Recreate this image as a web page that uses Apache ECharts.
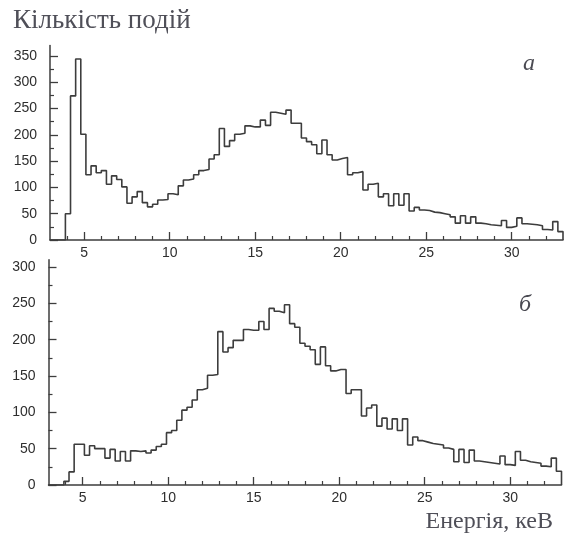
<!DOCTYPE html>
<html>
<head>
<meta charset="utf-8">
<script src="https://cdn.jsdelivr.net/npm/echarts@6/dist/echarts.min.js"></script>
<style>
  html, body { margin: 0; padding: 0; background: #ffffff; }
  #chart { width: 565px; height: 539px; }
</style>
</head>
<body>
<div id="chart"></div>
<script>
// Energy binning of both spectra (keV)
const binStart = 3;
const binWidth = 0.3;
const energyMin = 3;
const energyMax = 33;

// Counts per bin, spectrum (а)
const countsA = [
  0, 0, 0, 50, 274, 344, 201, 124, 141, 128,
  132, 106, 122, 115, 101, 70, 82, 92, 71, 63,
  68, 76, 77, 88, 86, 103, 114, 116, 124, 132,
  134, 154, 162, 212, 178, 189, 201, 203, 217, 215,
  215, 228, 218, 243, 241, 239, 247, 222, 222, 194,
  187, 181, 164, 190, 162, 152, 155, 157, 124, 128,
  130, 95, 106, 108, 82, 88, 65, 88, 66, 88,
  55, 62, 57, 56, 53, 52, 50, 48, 44, 32,
  46, 32, 44, 32, 31, 29, 28, 27, 37, 24,
  26, 42, 31, 30, 29, 27, 20, 19, 35, 16
];

// Counts per bin, spectrum (б)
const countsB = [
  0, 0, 0, 5, 18, 56, 56, 41, 54, 50,
  50, 37, 49, 33, 46, 33, 47, 46, 47, 44,
  48, 53, 56, 72, 75, 89, 103, 107, 117, 131,
  133, 151, 152, 211, 183, 189, 199, 199, 214, 213,
  213, 225, 214, 243, 239, 237, 248, 222, 217, 195,
  191, 186, 166, 190, 164, 157, 159, 159, 126, 131,
  131, 95, 106, 110, 81, 92, 77, 91, 75, 91,
  55, 66, 61, 59, 57, 56, 55, 51, 49, 32,
  49, 31, 48, 33, 32, 31, 30, 29, 40, 28,
  27, 46, 34, 32, 31, 30, 26, 25, 37, 19
];

// Axis ticks
const xMajorTicks = [5, 10, 15, 20, 25, 30];
const xMinorTicks = [4, 6, 7, 8, 9, 11, 12, 13, 14, 16, 17, 18, 19, 21, 22, 23, 24, 26, 27, 28, 29, 31, 32];
const yMajorTicksA = [0, 50, 100, 150, 200, 250, 300, 350];
const yMinorTicksA = [25, 75, 125, 175, 225, 275, 325];
const yMajorTicksB = [0, 50, 100, 150, 200, 250, 300];
const yMinorTicksB = [25, 75, 125, 175, 225, 275];
const yMaxA = 370;
const yMaxB = 310;

// Texts
const yTitle = 'Кількість подій';
const xTitle = 'Енергія, кеВ';
const panelTags = ['а', 'б'];

// Turn bin counts into the outline of a step histogram
function histogramOutline(counts) {
  const pts = [[binStart, 0]];
  counts.forEach(function (v, k) {
    const x0 = +(binStart + k * binWidth).toFixed(3);
    const x1 = +(binStart + (k + 1) * binWidth).toFixed(3);
    pts.push([x0, v], [x1, v]);
  });
  pts.push([+(binStart + counts.length * binWidth).toFixed(3), 0]);
  return pts;
}

const ink = '#3d3d3d';
const labelColor = '#2e2e2e';
const labelFont = 'Liberation Sans';

function xAxes(gridIndex) {
  return [
    {
      type: 'value', gridIndex: gridIndex, position: 'bottom',
      min: energyMin, max: energyMax,
      axisLine: { show: true, lineStyle: { color: ink, width: 1.5 } },
      axisTick: { show: true, inside: true, length: 8, customValues: xMajorTicks,
                  lineStyle: { color: ink, width: 1.3 } },
      axisLabel: { show: true, customValues: xMajorTicks, margin: 6,
                   color: labelColor, fontSize: 14, fontFamily: labelFont },
      splitLine: { show: false }
    },
    {
      type: 'value', gridIndex: gridIndex, position: 'bottom',
      min: energyMin, max: energyMax,
      axisLine: { show: false },
      axisTick: { show: true, inside: true, length: 4, customValues: xMinorTicks,
                  lineStyle: { color: ink, width: 1.2 } },
      axisLabel: { show: false },
      splitLine: { show: false }
    }
  ];
}

function yAxes(gridIndex, maxV, major, minor) {
  return [
    {
      type: 'value', gridIndex: gridIndex, position: 'left',
      min: 0, max: maxV,
      axisLine: { show: true, lineStyle: { color: ink, width: 1.5 } },
      axisTick: { show: true, inside: true, length: 8, customValues: major,
                  lineStyle: { color: ink, width: 1.3 } },
      axisLabel: { show: true, customValues: major, margin: 13,
                   color: labelColor, fontSize: 14, fontFamily: labelFont },
      splitLine: { show: false }
    },
    {
      type: 'value', gridIndex: gridIndex, position: 'left',
      min: 0, max: maxV,
      axisLine: { show: false },
      axisTick: { show: true, inside: true, length: 4, customValues: minor,
                  lineStyle: { color: ink, width: 1.2 } },
      axisLabel: { show: false },
      splitLine: { show: false }
    }
  ];
}

const chart = echarts.init(document.getElementById('chart'), null, { renderer: 'canvas' });

const serif = 'Liberation Serif';

chart.setOption({
  animation: false,
  backgroundColor: '#ffffff',
  grid: [
    { left: 50, top: 45.4, width: 513, height: 194.6 },
    { left: 48.5, top: 259.7, width: 513, height: 225.3 }
  ],
  xAxis: xAxes(0).concat(xAxes(1)),
  yAxis: yAxes(0, yMaxA, yMajorTicksA, yMinorTicksA).concat(yAxes(1, yMaxB, yMajorTicksB, yMinorTicksB)),
  series: [
    {
      type: 'line', xAxisIndex: 0, yAxisIndex: 0,
      data: histogramOutline(countsA),
      showSymbol: false, symbol: 'none',
      lineStyle: { color: ink, width: 1.6 }
    },
    {
      type: 'line', xAxisIndex: 2, yAxisIndex: 2,
      data: histogramOutline(countsB),
      showSymbol: false, symbol: 'none',
      lineStyle: { color: ink, width: 1.6 }
    }
  ],
  graphic: [
    { type: 'text', left: 13, top: 7,
      style: { text: yTitle, fill: '#4f4f58', font: 'normal 27px "' + serif + '"' } },
    { type: 'text', right: 12, top: 510,
      style: { text: xTitle, fill: '#4f4f58', font: 'normal 24px "' + serif + '"' } },
    { type: 'text', left: 523, top: 52,
      style: { text: panelTags[0], fill: '#4a4a52', font: 'italic 24px "' + serif + '"' } },
    { type: 'text', left: 519, top: 293,
      style: { text: panelTags[1], fill: '#4a4a52', font: 'italic 24px "' + serif + '"' } }
  ]
});
</script>
</body>
</html>
